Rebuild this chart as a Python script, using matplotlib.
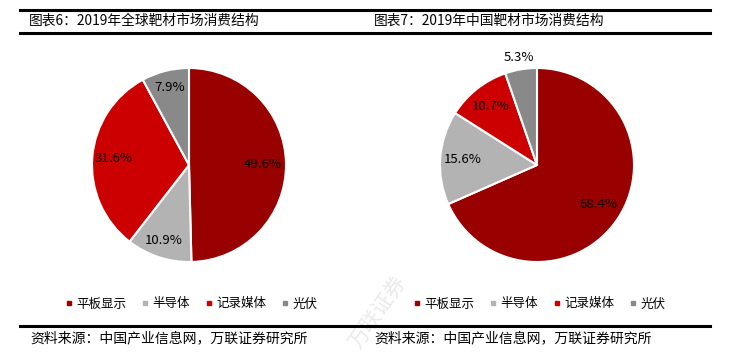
import matplotlib
matplotlib.use("Agg")
import matplotlib.pyplot as plt
from matplotlib.lines import Line2D
import numpy as np

plt.rcParams['font.family'] = ['Noto Sans CJK SC', 'DejaVu Sans']

# data
categories = ["平板显示", "半导体", "记录媒体", "光伏"]
global_share = [49.6, 10.9, 31.6, 7.9]
china_share = [68.4, 15.6, 10.7, 5.3]
colors = ["#990000", "#B3B3B3", "#CC0000", "#898989"]

titles = ["图表6：2019年全球靶材市场消费结构", "图表7：2019年中国靶材市场消费结构"]
source = "资料来源：中国产业信息网，万联证券研究所"

W, H = 736, 358
fig = plt.figure(figsize=(W / 100, H / 100), dpi=100)


def px_box(cx, cy, r):
    # axes box in figure fraction, from pixel center/radius (y from top)
    return [(cx - r) / W, (H - cy - r) / H, 2 * r / W, 2 * r / H]


def draw_pie(ax, values, label_dist):
    wedges, _ = ax.pie(values, colors=colors, startangle=90, counterclock=False,
                       wedgeprops=dict(edgecolor="white", linewidth=1.5))
    for w, v, d in zip(wedges, values, label_dist):
        ang = np.deg2rad((w.theta1 + w.theta2) / 2)
        ax.text(d * np.cos(ang), d * np.sin(ang), f"{v:.1f}%",
                ha="center", va="center", fontsize=9.5, color="black")
    ax.set_xlim(-1, 1)
    ax.set_ylim(-1, 1)
    ax.set_aspect("equal")
    ax.axis("off")
    return wedges


ax1 = fig.add_axes(px_box(189, 165, 97))
draw_pie(ax1, global_share, [0.76, 0.82, 0.78, 0.82])

ax2 = fig.add_axes(px_box(537, 165, 97))
draw_pie(ax2, china_share, [0.75, 0.77, 0.77, 1.12])

# header lines and titles
for y in [10, 32.5]:
    fig.add_artist(Line2D([20 / W, 710 / W], [1 - y / H, 1 - y / H], color="black", lw=2.2))
fig.text(29 / W, 1 - 21 / H, titles[0], fontsize=9.9, va="center", ha="left")
fig.text(374 / W, 1 - 21 / H, titles[1], fontsize=9.9, va="center", ha="left")

# legends
handles = [Line2D([], [], marker="s", ls="none", color=c, markersize=3.5) for c in colors]
for cx in [191, 539]:
    fig.legend(handles, categories, loc="center", bbox_to_anchor=(cx / W, 1 - 304 / H),
               ncol=4, frameon=False, fontsize=9, handlelength=0.6, handletextpad=0.3,
               columnspacing=1.2)

# bottom rule and source
fig.add_artist(Line2D([20 / W, 710 / W], [1 - 326 / H, 1 - 326 / H], color="black", lw=2.2))
fig.text(30 / W, 1 - 338 / H, source, fontsize=10, va="center", ha="left", style="italic")
fig.text(374 / W, 1 - 338 / H, source, fontsize=10, va="center", ha="left", style="italic")

# faint watermark
fig.text(378 / W, 1 - 312 / H, "万联证券", fontsize=15, color="#dcdcdc", rotation=55,
         ha="center", va="center", alpha=0.6, zorder=0)

fig.savefig("out.png", dpi=100)
